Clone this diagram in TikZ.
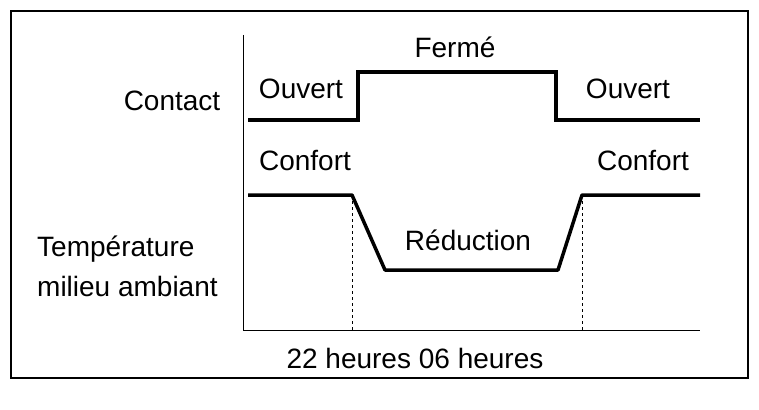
\documentclass[tikz,border=0pt]{standalone}
\usepackage{fontspec}
\setmainfont{Liberation Sans}
\begin{document}
\begin{tikzpicture}[x=1pt,y=-1pt,
  lbl/.style={font=\fontsize{28}{32}\selectfont,inner sep=0pt},
  sig/.style={line width=3.5pt},
  axis/.style={line width=1pt},
  guide/.style={dashed,line width=0.6pt}]
\useasboundingbox (0,0) rectangle (759,409);
\fill[white] (0,0) rectangle (759,409);
\draw[line width=2pt] (11,11) rectangle (748,378);
% axes
\coordinate (ytop) at (243,35);
\coordinate (orig) at (243,330);
\coordinate (xend) at (700,330);
\draw[axis] (ytop) -- (orig) -- (xend);
% contact signal
\coordinate (c0) at (248,120);
\coordinate (c1) at (358,120);
\coordinate (c2) at (358,72);
\coordinate (c3) at (556,72);
\coordinate (c4) at (556,120);
\coordinate (c5) at (700,120);
\draw[sig] (c0) -- (c1) -- (c2) -- (c3) -- (c4) -- (c5);
% temperature signal
\coordinate (t0) at (248,195);
\coordinate (t1) at (352,195);
\coordinate (t2) at (385,270);
\coordinate (t3) at (558,270);
\coordinate (t4) at (582,195);
\coordinate (t5) at (700,195);
\draw[sig,line join=round] (t0) -- (t1) -- (t2) -- (t3) -- (t4) -- (t5);
\coordinate (d1) at (354,330);
\coordinate (d2) at (584,330);
\draw[guide] (t1) -- (t1 |- d1);
\draw[guide] (t4) -- (t4 |- d2);
% labels
\node[lbl] (ferme) at (455,47) {Fermé};
\node[lbl] (ouv1) at (301,89) {Ouvert};
\node[lbl] (ouv2) at (628,89) {Ouvert};
\node[lbl] (contact) at (172,101) {Contact};
\node[lbl] (conf1) at (305,161) {Confort};
\node[lbl] (conf2) at (643,161) {Confort};
\node[lbl] (red) at (468,240) {Réduction};
\node[lbl,anchor=west] (temp1) at (37,249) {Température};
\node[lbl,anchor=west] (temp2) at (37,286) {milieu ambiant};
\node[lbl] (heures) at (415,358) {22 heures 06 heures};
\end{tikzpicture}
\end{document}
